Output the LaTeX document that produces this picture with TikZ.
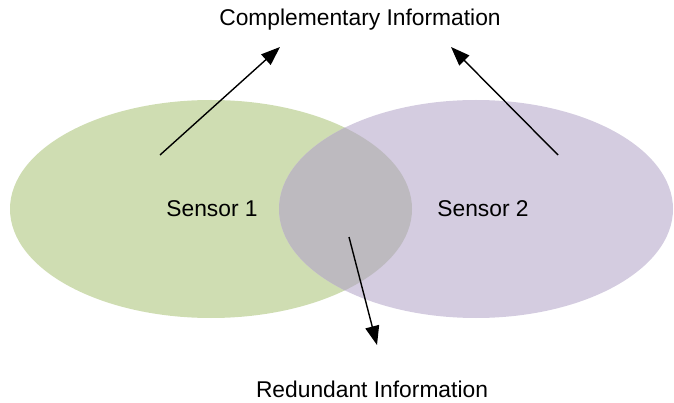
\documentclass[tikz,border=0pt]{standalone}
\usepackage{fontspec}
\setmainfont{Liberation Sans}
\usetikzlibrary{arrows.meta}
\definecolor{sgreen}{HTML}{CFDDB2}
\definecolor{spurple}{HTML}{D4CCE0}
\definecolor{soverlap}{HTML}{BDBABF}
\tikzset{
  lbl/.style={font=\fontsize{22.8}{27}\selectfont, inner sep=0pt},
  arr/.style={line width=1.4pt, -{Triangle[length=19pt,width=14pt]}},
}
\begin{document}
\begin{tikzpicture}[x=1pt,y=-1pt]
\useasboundingbox (0,0) rectangle (674,403);
\fill[sgreen] (211,209) ellipse [x radius=201, y radius=109];
\fill[spurple] (476,209) ellipse [x radius=197, y radius=109];
\begin{scope}
  \clip (211,209) ellipse [x radius=201, y radius=109];
  \fill[soverlap] (476,209) ellipse [x radius=197, y radius=109];
\end{scope}
\node[lbl] (s1) at (212,209) {Sensor 1};
\node[lbl] (s2) at (483,209) {Sensor 2};
\node[lbl] (comp) at (360,20) {Complementary Information};
\node[lbl] (red) at (372,389) {Redundant Information};
\coordinate (a1s) at (160,155);
\coordinate (a1e) at (280,47);
\coordinate (a2s) at (558,155);
\coordinate (a2e) at (451,47);
\coordinate (a3s) at (349,237);
\coordinate (a3e) at (377,345);
\draw[arr] (a1s) -- (a1e);
\draw[arr] (a2s) -- (a2e);
\draw[arr] (a3s) -- (a3e);
\end{tikzpicture}
\end{document}
